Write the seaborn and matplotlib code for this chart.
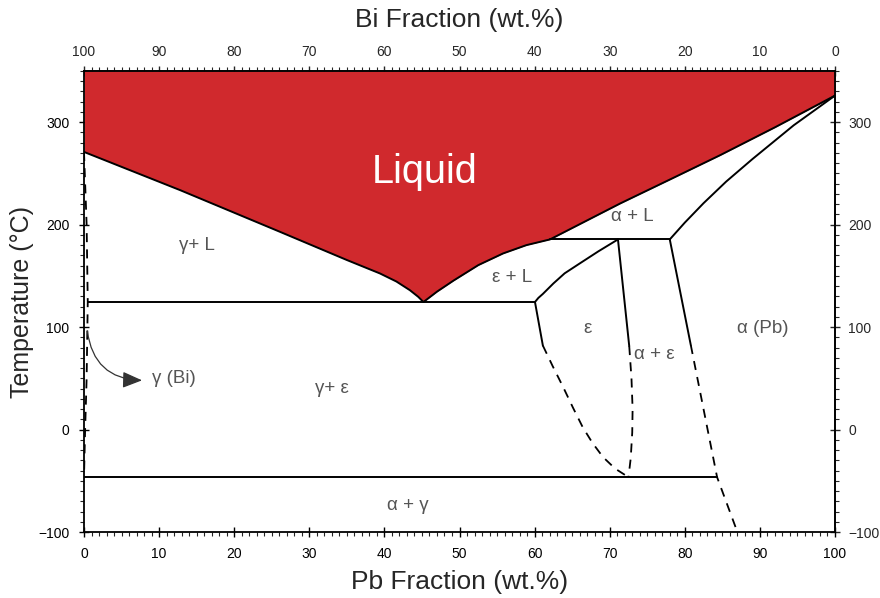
import numpy as np
import pandas as pd
import matplotlib
matplotlib.use("Agg")
import matplotlib.pyplot as plt
import seaborn as sns
from matplotlib.ticker import MultipleLocator
from matplotlib.patches import FancyArrowPatch

sns.set_theme(style="ticks")
plt.rcParams['font.family'] = ['Liberation Sans', 'DejaVu Sans']

# ---- data (wt.% Pb, temperature in C) ----
liq_bi_x = [0, 12.8, 26.1, 35.0, 39.4, 41.6, 43.4, 44.5, 45.2]
liq_bi_T = [271, 233.7, 193.0, 165.5, 152.4, 144.5, 136.0, 129.6, 124.5]
liq_pb_x = [45.2, 47.0, 49.2, 52.5, 55.8, 58.9, 62.05, 71.4, 78.0, 84.7, 92.0, 100]
liq_pb_T = [124.5, 134.6, 145.4, 160.5, 171.9, 180.0, 185.6, 220.7, 244.0, 267.8, 295.0, 326]

eps_liq_x = [60.05, 60.5, 61.1, 62.5, 64.0, 66.0, 68.5, 71.1]
eps_liq_T = [124.5, 128.5, 132.4, 142.6, 152.5, 162.1, 174.0, 185.6]

alpha_sol_x = [78.0, 80.0, 82.5, 85.5, 89.0, 94.5, 100]
alpha_sol_T = [185.6, 202.0, 221.0, 242.0, 264.0, 297.0, 326]

eps_r_solid_x = [71.1, 72.6]
eps_r_solid_T = [185.6, 81.5]
eps_r_dash_x = [72.6, 72.9, 73.05, 73.0, 72.8, 72.5]
eps_r_dash_T = [81.5, 50, 20, -3, -28, -46.5]

alp_l_solid_x = [78.0, 80.8]
alp_l_solid_T = [185.6, 82.4]
alp_l_dash_x = [80.8, 84.3, 87.0]
alp_l_dash_T = [82.4, -46.5, -100]

eps_l_solid_x = [60.05, 61.1]
eps_l_solid_T = [124.5, 82]
eps_l_dash_x = [61.1, 62.4, 63.8, 65.1, 66.4, 67.7, 69.1, 70.7, 72.5]
eps_l_dash_T = [82, 62, 41.5, 21.5, 2.4, -13.0, -26.8, -38.0, -46.5]

bi_solvus_x = [0, 0.35, 0.5, 0.35, 0.15, 0]
bi_solvus_T = [271, 200, 124.5, 50, 0, -46.5]

eutectic_x = [0.5, 60.05]
eutectic_T = [124.5, 124.5]
peritectic_x = [62.05, 78.0]
peritectic_T = [185.6, 185.6]
eutectoid_x = [0, 84.3]
eutectoid_T = [-46.5, -46.5]

labels = ["γ+ L", "ε + L", "α + L", "ε", "α + ε", "α (Pb)", "γ+ ε", "α + γ"]
label_x = [15.0, 57.0, 73.0, 67.1, 76.0, 90.4, 33.0, 43.1]
label_T = [180, 148, 208.3, 99, 73.7, 99, 40.5, -73.7]

ticks = [0, 10, 20, 30, 40, 50, 60, 70, 80, 90, 100]
yticks = [-100, 0, 100, 200, 300]

RED = "#D0292D"
TXT = "#555555"

fig = plt.figure(figsize=(8.8, 5.98), dpi=100)
ax = fig.add_axes([84/880, 1-532/598, (835-84)/880, (532-71)/598])

# liquid fill
liq_x = liq_bi_x + liq_pb_x[1:]
liq_T = liq_bi_T + liq_pb_T[1:]
ax.fill_between(liq_x, liq_T, 350, color=RED, lw=0, zorder=1)

def line(xs, ts, dashed=False):
    df = pd.DataFrame({"x": xs, "T": ts})
    sns.lineplot(data=df, x="x", y="T", sort=False, estimator=None, ax=ax,
                 color="black", lw=1.4 if not dashed else 1.3,
                 linestyle=(0, (5, 4)) if dashed else "-", zorder=3)

line(liq_x, liq_T)
line(eps_liq_x, eps_liq_T)
line(alpha_sol_x, alpha_sol_T)
line(eps_r_solid_x, eps_r_solid_T)
line(eps_r_dash_x, eps_r_dash_T, True)
line(alp_l_solid_x, alp_l_solid_T)
line(alp_l_dash_x, alp_l_dash_T, True)
line(eps_l_solid_x, eps_l_solid_T)
line(eps_l_dash_x, eps_l_dash_T, True)
line(bi_solvus_x, bi_solvus_T, True)
line(eutectic_x, eutectic_T)
line(peritectic_x, peritectic_T)
line(eutectoid_x, eutectoid_T)

for s, x, t in zip(labels, label_x, label_T):
    ax.text(x, t, s, ha="center", va="center", fontsize=13.5, color=TXT)
ax.text(45.3, 251, "Liquid", ha="center", va="center", fontsize=28.5, color="white")
ax.text(9.1, 50, "γ (Bi)", ha="left", va="center", fontsize=13.5, color=TXT)

arr = FancyArrowPatch((0.4, 99), (8.1, 48), connectionstyle="arc3,rad=0.45",
                      arrowstyle="-|>,head_length=12,head_width=5",
                      color="#333333", lw=0.9, zorder=4, mutation_scale=1)
ax.add_patch(arr)

ax.set_xlim(0, 100)
ax.set_ylim(-100, 350)
ax.set_xticks(ticks)
ax.set_yticks(yticks)
ax.xaxis.set_minor_locator(MultipleLocator(1))
ax.yaxis.set_minor_locator(MultipleLocator(10))
ax.set_xlabel("Pb Fraction (wt.%)", fontsize=19, labelpad=7)
ax.set_ylabel("Temperature (°C)", fontsize=18, labelpad=3)

for sp in ax.spines.values():
    sp.set_visible(True)
    sp.set_color("black")
    sp.set_linewidth(1.3)

ax.tick_params(which="major", direction="inout", length=7, width=1, labelsize=10, pad=7, colors="black")
ax.tick_params(which="minor", direction="out", length=3, width=0.8)

top = ax.secondary_xaxis("top", functions=(lambda v: 100 - v, lambda v: 100 - v))
top.set_xticks(ticks)
top.xaxis.set_minor_locator(MultipleLocator(1))
top.tick_params(which="major", direction="inout", length=7, width=1, labelsize=10, pad=5)
top.tick_params(which="minor", direction="out", length=3, width=0.8)
top.set_xlabel("Bi Fraction (wt.%)", fontsize=19, labelpad=13)

right = ax.secondary_yaxis("right")
right.set_yticks(yticks)
right.yaxis.set_minor_locator(MultipleLocator(10))
right.tick_params(which="major", direction="inout", length=7, width=1, labelsize=10, pad=6)
right.tick_params(which="minor", direction="out", length=3, width=0.8)

fig.savefig("out.png", dpi=100)
